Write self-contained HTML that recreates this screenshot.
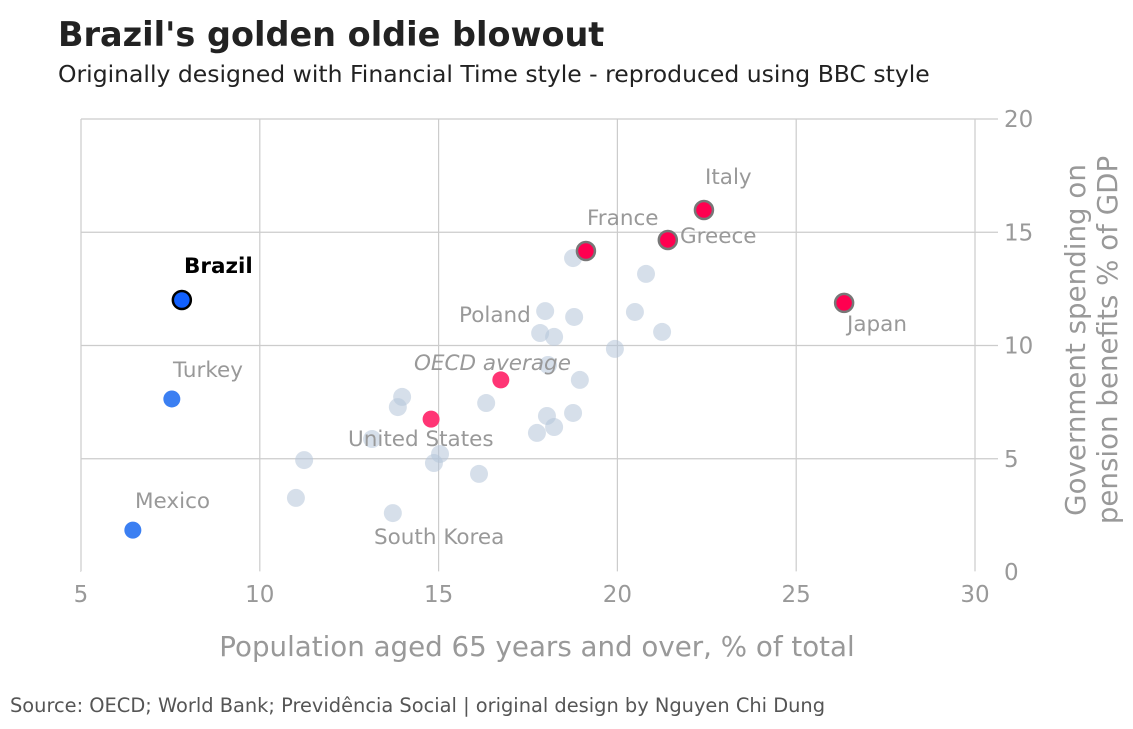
<!DOCTYPE html>
<html><head><meta charset="utf-8"><style>
body{margin:0;background:#fff;width:1133px;height:725px;overflow:hidden;font-family:"DejaVu Sans","Liberation Sans",sans-serif}
</style></head><body>
<svg width="1133" height="725" font-family="DejaVu Sans, Liberation Sans, sans-serif">
<text x="58" y="46" font-size="33.5" font-weight="bold" fill="#222">Brazil's golden oldie blowout</text>
<text x="58" y="82" font-size="23.5" fill="#222">Originally designed with Financial Time style - reproduced using BBC style</text>
<text x="10" y="712" font-size="19.4" fill="#555">Source: OECD; World Bank; Previdência Social | original design by Nguyen Chi Dung</text>
<g id="grid"></g>
<g id="marks"></g>
<g id="labels"></g>
<text x="537" y="656" font-size="27.7" fill="#999" text-anchor="middle">Population aged 65 years and over, % of total</text>
<g transform="translate(1085,340) rotate(-90)">
<text x="0" y="0" font-size="27.7" fill="#999" text-anchor="middle">Government spending on</text>
<text x="0" y="32" font-size="27.7" fill="#999" text-anchor="middle">pension benefits % of GDP</text>
</g>
</svg>
<script>
const xTicks=[5,10,15,20,25,30];
const yTicks=[0,5,10,15,20];
const otherX=[17.98,18.79,17.84,18.23,20.49,21.25,19.93,18.06,18.95,16.33,13.98,13.86,18.03,18.76,18.23,17.75,13.14,11.24,15.04,14.87,16.13,11.01,13.72,18.76,20.80];
const otherY=[11.52,11.26,10.55,10.38,11.48,10.60,9.85,9.14,8.48,7.46,7.73,7.28,6.89,7.02,6.40,6.14,5.87,4.94,5.21,4.81,4.33,3.27,2.60,13.86,13.16];
const redNames=['oecd-average','united-states','france','greece','italy','japan'];
const redX=[16.74,14.79,19.12,21.41,22.42,26.34];
const redY=[8.48,6.75,14.17,14.66,15.98,11.88];
const blueNames=['brazil','turkey','mexico'];
const blueX=[7.82,7.54,6.45];
const blueY=[12.01,7.64,1.85];
const NS='http://www.w3.org/2000/svg';
const sx=v=>81+(v-5)*35.76, sy=v=>572-v*22.65;
function mk(p,t,a){const e=document.createElementNS(NS,t);for(const k in a)e.setAttribute(k,a[k]);p.appendChild(e);return e;}
const g=document.getElementById('grid'),m=document.getElementById('marks'),L=document.getElementById('labels');
xTicks.forEach(t=>{const l=mk(g,'line',{x1:sx(t),x2:sx(t),y1:119,y2:572,stroke:'#ccc','stroke-width':1.2});


const tx=mk(g,'text',{x:sx(t),y:602,'font-size':23,fill:'#999','text-anchor':'middle'});tx.textContent=t;

});
yTicks.forEach(t=>{const l=mk(g,'line',{x1:81,x2:998,y1:sy(t),y2:sy(t),stroke:(t==0?'#fff':'#ccc'),'stroke-width':1.2});


const tx=mk(g,'text',{x:1004,y:sy(t)+8,'font-size':23,fill:'#999'});tx.textContent=t;

});
otherX.forEach((v,i)=>{const c=mk(m,'circle',{cx:sx(v),cy:sy(otherY[i]),r:9,fill:'#b4c4d8','fill-opacity':0.55});

});
redX.forEach((v,i)=>{const out=i>=2;const c=mk(m,'circle',{cx:sx(v),cy:sy(redY[i]),r:out?9:8.5,fill:out?'#ff0050':'#ff3575',stroke:out?'#777':'none','stroke-width':2.5});

});
blueX.forEach((v,i)=>{const b=i==0;const c=mk(m,'circle',{cx:sx(v),cy:sy(blueY[i]),r:b?9:8.5,fill:b?'#1160ff':'#3b7ff2',stroke:b?'#000':'none','stroke-width':2.5});

});
const labs=[['Italy',705,184,{}],['France',587,225,{}],['Greece',680,243,{}],['Japan',847,331,{}],['Poland',459,322,{}],['OECD average',414,370,{'font-style':'italic'}],['United States',348,446,{}],['South Korea',374,544,{}],['Turkey',173,377,{}],['Mexico',135,508,{}],['Brazil',184,273,{'font-weight':'bold',fill:'#000'}]];
labs.forEach(([t,x,y,o])=>{const e=mk(L,'text',Object.assign({x:x,y:y,'font-size':21.5,fill:'#999'},o));e.textContent=t;

});
</script>
</body></html>
